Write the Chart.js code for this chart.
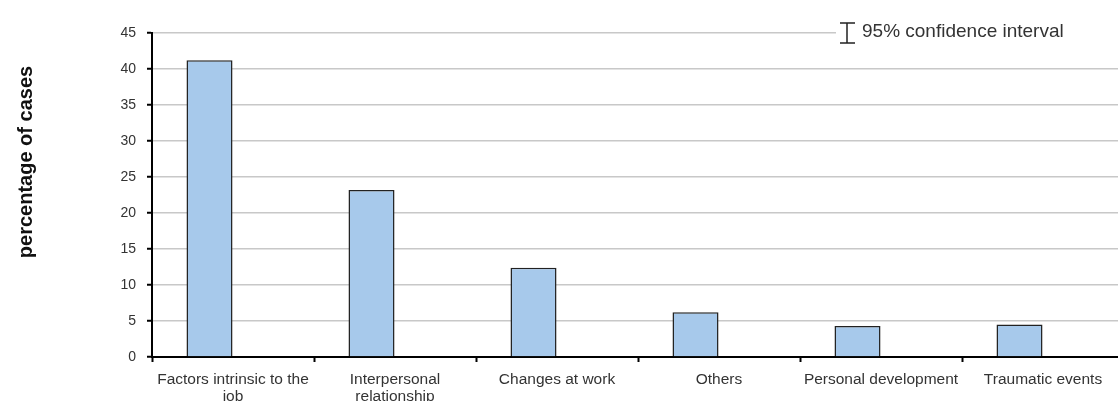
<!DOCTYPE html>
<html>
<head>
<meta charset="utf-8">
<script src="https://cdn.jsdelivr.net/npm/chart.js"></script>
<style>
  html, body { margin: 0; padding: 0; background: #fff; overflow: hidden; }
  #wrap { width: 1126px; height: 401px; position: relative; }
</style>
</head>
<body>
<div id="wrap"><canvas id="causesChart"></canvas></div>
<script>
// categories and values
var categories = [
    ['Factors intrinsic to the', 'job'],
    ['Interpersonal', 'relationship'],
    'Changes at work',
    'Others',
    'Personal development',
    'Traumatic events'
];
var percentCases = [41.2, 23.2, 12.4, 6.2, 4.3, 4.5];
var emptySlot = [null, null, null, null, null, null]; // second (empty) series, pushes the bars left like in Excel
var yTicks = [0, 5, 10, 15, 20, 25, 30, 35, 40, 45];
var yTitle = 'percentage of cases';
var legendText = '95% confidence interval';

var fontFamily = '"Liberation Sans", Arial, sans-serif';

// y title and legend drawn by hand
var extras = {
    id: 'extras',
    afterDraw: function (chart) {
        var ctx = chart.ctx;
        ctx.save();
        // axis title, rotated
        ctx.save();
        ctx.translate(26, 162);
        ctx.rotate(-Math.PI / 2);
        ctx.fillStyle = '#111';
        ctx.font = 'bold 20px ' + fontFamily;
        ctx.textAlign = 'center';
        ctx.textBaseline = 'middle';
        ctx.fillText(yTitle, 0, 0);
        ctx.restore();

        // legend: error bar glyph + label
        ctx.fillStyle = '#fff';
        ctx.fillRect(836, 20, 290, 26);
        ctx.strokeStyle = '#222';
        ctx.lineWidth = 1.5;
        ctx.beginPath();
        ctx.moveTo(847, 23); ctx.lineTo(847, 43);
        ctx.moveTo(840, 23); ctx.lineTo(855, 23);
        ctx.moveTo(840, 43); ctx.lineTo(855, 43);
        ctx.stroke();
        ctx.fillStyle = '#333';
        ctx.font = '19px ' + fontFamily;
        ctx.textBaseline = 'middle';
        ctx.fillText(legendText, 862, 32);
        ctx.restore();
    }
};

var ctx = document.getElementById('causesChart');
new Chart(ctx.getContext('2d'), {
    type: 'bar',
    data: {
        labels: categories,
        datasets: [{
            label: 'percentage of cases',
            data: percentCases,
            backgroundColor: '#a7c9eb',
            borderColor: '#222',
            borderWidth: 1.5,
            categoryPercentage: 0.58,
            barPercentage: 0.98
        }, {
            label: 'empty',
            data: emptySlot,
            categoryPercentage: 0.58,
            barPercentage: 0.98
        }]
    },
    options: {
        responsive: true,
        maintainAspectRatio: false,
        animation: false,
        layout: { padding: { top: 33, right: 2, left: 0, bottom: 0 } },
        plugins: {
            legend: { display: false },
            tooltip: { enabled: false }
        },
        scales: {
            x: {
                grid: {
                    drawOnChartArea: false,
                    tickLength: 5,
                    tickColor: '#000',
                    tickWidth: 2
                },
                border: { color: '#000', width: 2 },
                ticks: {
                    color: '#333',
                    font: { family: fontFamily, size: 15.5, lineHeight: 1.1 },
                    maxRotation: 0,
                    autoSkip: false,
                    padding: 9
                },
                afterFit: function (scale) { scale.height = 44; }
            },
            y: {
                min: 0,
                max: 45,
                afterBuildTicks: function (scale) {
                    scale.ticks = yTicks.map(function (v) { return { value: v }; });
                },
                grid: {
                    color: '#c8c8c8',
                    lineWidth: 1.5,
                    tickLength: 5,
                    tickColor: '#000',
                    tickWidth: 2
                },
                border: { color: '#000', width: 2 },
                ticks: {
                    color: '#333',
                    font: { family: fontFamily, size: 14 },
                    padding: 11
                },
                afterFit: function (scale) { scale.width = 152; }
            }
        }
    },
    plugins: [extras]
});
</script>
</body>
</html>
